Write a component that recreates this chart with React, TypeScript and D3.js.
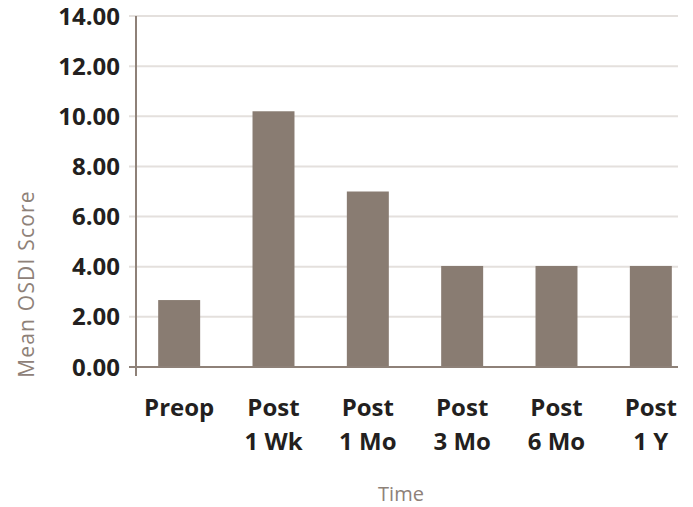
import * as d3 from "d3";

const categories = ["Preop", "Post|1 Wk", "Post|1 Mo", "Post|3 Mo", "Post|6 Mo", "Post|1 Y"];
const values = [2.67, 10.2, 7.0, 4.03, 4.03, 4.03];
const yTicks = [0, 2, 4, 6, 8, 10, 12, 14];

const barColor = "#897c72";
const gridColor = "#e4e0dd";
const axisColor = "#8e8178";
const textColor = "#231f20";

const App = () => {
  const width = 693;
  const height = 507;

  const y = d3.scaleLinear().domain([0, 14]).range([367, 16]);
  const x = d3
    .scaleBand<string>()
    .domain(categories)
    .range([132, 698])
    .paddingInner(0.555)
    .paddingOuter(0.2775);

  return (
    <svg
      width={width}
      height={height}
      style={{ position: "absolute", left: 0, top: 0, fontFamily: "'Open Sans'" }}
    >
      {/* grid */}
      {yTicks.map((t) => (
        <line
          key={t}
          x1={129}
          x2={678}
          y1={y(t)}
          y2={y(t)}
          stroke={gridColor}
          strokeWidth={2}
        />
      ))}
      {yTicks.map((t) => (
        <text
          key={"l" + t}
          x={120}
          y={y(t)}
          dy="0.36em"
          textAnchor="end"
          fontSize={24}
          fontWeight={700}
          fill={textColor}
        >
          {d3.format(".2f")(t)}
        </text>
      ))}

      {/* bars */}
      {categories.map((c, i) => (
        <rect
          key={c}
          x={x(c)}
          y={y(values[i])}
          width={x.bandwidth()}
          height={y(0) - y(values[i])}
          fill={barColor}
        />
      ))}

      {/* axes */}
      <line x1={136} x2={136} y1={16} y2={376} stroke={axisColor} strokeWidth={2} />
      <line x1={129} x2={678} y1={y(0)} y2={y(0)} stroke={axisColor} strokeWidth={2} />

      {/* category labels */}
      {categories.map((c) => {
        const cx = (x(c) ?? 0) + x.bandwidth() / 2;
        return c.split("|").map((line, j) => (
          <text
            key={c + j}
            x={cx}
            y={416 + j * 34}
            textAnchor="middle"
            fontSize={24}
            fontWeight={700}
            fill={textColor}
          >
            {line}
          </text>
        ));
      })}

      {/* axis titles */}
      <text
        transform="translate(34,284) rotate(-90)"
        textAnchor="middle"
        fontSize={21}
        letterSpacing={1.2}
        fill={axisColor}
      >
        Mean OSDI Score
      </text>
      <text x={401} y={501} textAnchor="middle" fontSize={20} fill={axisColor}>
        Time
      </text>
    </svg>
  );
};

export default App;
